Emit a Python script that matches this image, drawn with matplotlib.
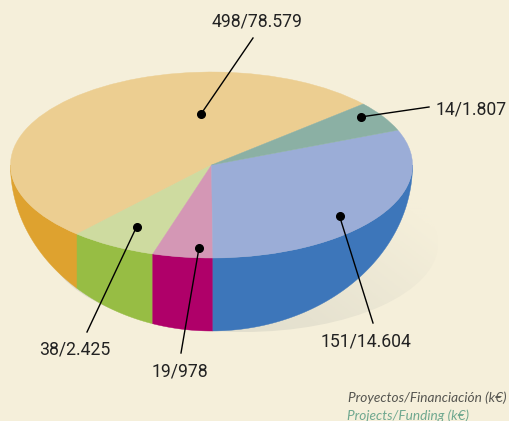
import matplotlib
matplotlib.use("Agg")
import matplotlib.pyplot as plt
from matplotlib.colors import LinearSegmentedColormap
from matplotlib.patches import Ellipse
import numpy as np

# sweep of each slice in degrees (counterclockwise)
slice_names = ["498/78.579", "38/2.425", "19/978", "151/14.604", "14/1.807"]
slice_sweep = [187, 25, 17.4, 111.6, 19]
start_angle = 41

top_colors = ["#ECCE91", "#CEDBA0", "#D497B5", "#9BADD7", "#8BB0A4"]
side_colors = ["#DEA22F", "#97BD44", "#AF0069", "#3D76BA", "#5E9384"]

legend_es = "Proyectos/Financiación (k€)"
legend_en = "Projects/Funding (k€)"

bg = "#F5EFDA"

# picture geometry, pixels
cx, cy = 211.5, 165
rx, ry_top, ry_bottom = 201, 93, 166


def px(x, y):
    # pixel in the reference -> pie units
    return (x - cx) / rx, (cy - y) / ry_top


fig = plt.figure(figsize=(5.09, 4.21), dpi=100, facecolor=bg)
ax = fig.add_axes([0, 0, 1, 1])

wedges, _ = ax.pie(slice_sweep, colors=top_colors, startangle=start_angle, radius=1)
for w, col in zip(wedges, top_colors):
    w.set_edgecolor(col)
    w.set_linewidth(0.3)
    w.set_zorder(5)
ax.set_aspect("auto")
ax.set_frame_on(False)
ax.patch.set_alpha(0)

# soft shadow under the pie
sx, sy = px(243, 244)
shadow = Ellipse((sx, sy), 2 * 195 / rx, 2 * 88 / ry_top, transform=ax.transData,
                 facecolor="none", edgecolor="none")
ax.add_patch(shadow)
gx, gy = np.meshgrid(np.linspace(0, 1, 200), np.linspace(0, 1, 200))
shade = LinearSegmentedColormap.from_list("shade", ["#DEDBCB", "#E6E2D0", bg])
im = ax.imshow(gx * 0.75 + (1 - gy) * 0.45, cmap=shade, vmin=0.1, vmax=1.0, origin="upper",
               extent=[px(40, 0)[0], px(440, 0)[0], px(0, 335)[1], px(0, 150)[1]],
               aspect="auto", zorder=1)
im.set_clip_path(shadow)
ax.set_xlim(px(0, 0)[0], px(509, 0)[0])
ax.set_ylim(px(0, 421)[1], px(0, 0)[1])

# side wall between the top ellipse and the lower one
a0 = start_angle
for sweep, col in zip(slice_sweep, side_colors):
    a1 = a0 + sweep
    lo, hi = max(a0, 180), min(a1, 360)
    if hi > lo:
        th = np.radians(np.linspace(lo, hi, 80))
        xs = np.concatenate([np.cos(th), np.cos(th[::-1])])
        ys = np.concatenate([np.sin(th), np.sin(th[::-1]) * ry_bottom / ry_top])
        ax.fill(xs, ys, color=col, lw=0.3, zorder=3)
    a0 = a1

# leader lines, pixels in the reference
dots = [(201, 114), (136.5, 227), (199, 248), (339.5, 216), (360.5, 117)]
ends = [(253, 38), (87, 332), (181, 353), (373, 323), (429, 107)]
text_pos = [(257, 22), (75, 349), (180, 371), (366, 342), (471, 109)]

for name, d, e, t in zip(slice_names, dots, ends, text_pos):
    dx, dy = px(*d)
    ex, ey = px(*e)
    ax.plot([dx, ex], [dy, ey], color="black", lw=1.0, zorder=7)
    ax.plot(dx, dy, "o", color="black", ms=5.5, zorder=8)
    tx, ty = px(*t)
    ax.text(tx, ty, name, ha="center", va="center", fontsize=12.7, color="#222222",
            family="Roboto", zorder=8)

ax.text(*px(506, 398), legend_es, ha="right", va="center", fontsize=9.8, style="italic",
        color="#555550", family="Lato")
ax.text(*px(347, 416), legend_en, ha="left", va="center", fontsize=9.8, style="italic",
        color="#6FA88F", family="Lato")

fig.savefig("out.png", dpi=100, facecolor=bg)
